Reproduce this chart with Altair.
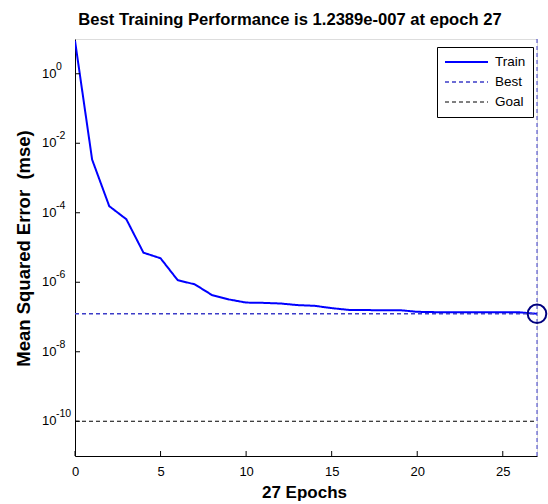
import altair as alt
import pandas as pd

# ---- data ----
epochs = list(range(28))
train_mse = [8.9, 3.4e-3, 1.55e-4, 6.5e-5, 7.1e-6, 4.9e-6, 1.15e-6, 8.7e-7,
             4.3e-7, 3.2e-7, 2.6e-7, 2.55e-7, 2.45e-7, 2.2e-7, 2.1e-7, 1.8e-7,
             1.6e-7, 1.58e-7, 1.57e-7, 1.57e-7, 1.41e-7, 1.38e-7, 1.38e-7,
             1.37e-7, 1.37e-7, 1.36e-7, 1.36e-7, 1.2389e-7]
best_epoch = 27
best_perf = 1.2389e-7
goal = 1e-10
x_range = [0, 27]
y_range = [1e-11, 10]
x_ticks = [0, 5, 10, 15, 20, 25]
y_exps = [0, -2, -4, -6, -8, -10]
series_names = ["Train", "Best", "Goal"]

# ---- tables ----
rows = [{"series": "Train", "epoch": e, "mse": v} for e, v in zip(epochs, train_mse)]
rows += [{"series": "Best", "epoch": x, "mse": best_perf} for x in x_range]
rows += [{"series": "Goal", "epoch": x, "mse": goal} for x in x_range]
lines_df = pd.DataFrame(rows)
best_df = pd.DataFrame({"epoch": [best_epoch], "mse": [best_perf]})
xt_df = pd.DataFrame({"epoch": x_ticks})
yt_df = pd.DataFrame({"mse": [10.0 ** e for e in y_exps],
                      "base": ["10"] * len(y_exps),
                      "exp": [str(e) for e in y_exps]})

FONT = "Liberation Sans"
W, H = 462, 417

xscale = alt.Scale(domain=x_range, nice=False, zero=False)
yscale = alt.Scale(type="log", domain=y_range, nice=False)

x_axis = alt.Axis(values=x_ticks, ticks=False, grid=False, domainColor="black",
                  labelFont=FONT, labelFontSize=13, labelColor="black", labelPadding=9,
                  labelFlush=False,
                  title="27 Epochs", titleFont=FONT, titleFontSize=17, titleFontWeight="bold",
                  titleColor="black", titleX=229, titleY=41, titleBaseline="alphabetic")
y_axis = alt.Axis(values=[10.0 ** e for e in y_exps], ticks=False, grid=False,
                  domainColor="black", labels=False,
                  title="Mean Squared Error \u00a0(mse)", titleFont=FONT, titleFontSize=18.5,
                  titleFontWeight="bold", titleColor="black", titleX=-42, titleY=209,
                  titleAngle=270, titleAlign="center", titleBaseline="bottom")

lines = alt.Chart(lines_df).mark_line(clip=True).encode(
    x=alt.X("epoch:Q", scale=xscale, axis=x_axis),
    y=alt.Y("mse:Q", scale=yscale, axis=y_axis),
    color=alt.Color("series:N", sort=series_names,
                    scale=alt.Scale(domain=series_names, range=["#0000ff", "#3c3cc8", "#000000"]),
                    legend=alt.Legend(title=None, orient="none", legendX=362, legendY=8,
                                      symbolType="stroke", symbolSize=1849, clipHeight=16,
                                      labelFont=FONT, labelFontSize=13.5, labelColor="black",
                                      labelOffset=6, strokeColor="black", fillColor="white",
                                      padding=7, rowPadding=4, cornerRadius=0)),
    strokeDash=alt.StrokeDash("series:N", sort=series_names,
                              scale=alt.Scale(domain=series_names, range=[[1, 0], [4, 3], [4, 3]])),
    strokeWidth=alt.StrokeWidth("series:N", sort=series_names,
                                scale=alt.Scale(domain=series_names, range=[2, 1, 1])),
    detail="series:N",
)

best_vline = alt.Chart(best_df).mark_rule(color="#3c3cc8", strokeDash=[4, 3], strokeWidth=1).encode(
    x=alt.X("epoch:Q", scale=xscale),
)

best_circle = alt.Chart(best_df).mark_point(shape="circle", filled=False, size=346,
                                            color="#00007f", strokeWidth=2, opacity=1).encode(
    x=alt.X("epoch:Q", scale=xscale),
    y=alt.Y("mse:Q", scale=yscale),
)

x_tick_marks = alt.Chart(xt_df).mark_rule(color="black", strokeWidth=1).encode(
    x=alt.X("epoch:Q", scale=xscale),
    y=alt.value(H), y2=alt.value(H - 5),
)
y_tick_marks = alt.Chart(yt_df).mark_rule(color="black", strokeWidth=1).encode(
    y=alt.Y("mse:Q", scale=yscale),
    x=alt.value(0), x2=alt.value(5),
)
y_label_base = alt.Chart(yt_df).mark_text(font=FONT, fontSize=13, color="black",
                                          align="left", baseline="middle").encode(
    y=alt.Y("mse:Q", scale=yscale), x=alt.value(-33), text="base:N",
)
y_label_exp = alt.Chart(yt_df).mark_text(font=FONT, fontSize=10.5, color="black",
                                         align="left", baseline="middle", dy=-7).encode(
    y=alt.Y("mse:Q", scale=yscale), x=alt.value(-19), text="exp:N",
)

chart = alt.layer(lines, best_vline, best_circle, x_tick_marks, y_tick_marks,
                  y_label_base, y_label_exp).properties(
    width=W, height=H,
    title=alt.TitleParams("Best Training Performance is 1.2389e-007 at epoch 27",
                          font=FONT, fontSize=16.6, fontWeight="bold", color="black",
                          anchor="middle", dx=-16, dy=19, offset=16, baseline="alphabetic"),
    autosize=alt.AutoSizeParams(type="none"),
    padding={"left": 75, "top": 39, "right": 11, "bottom": 48},
).configure_view(stroke=None).configure(background="white")

chart.save("out.html", embed_options={"renderer": "svg", "actions": False})
